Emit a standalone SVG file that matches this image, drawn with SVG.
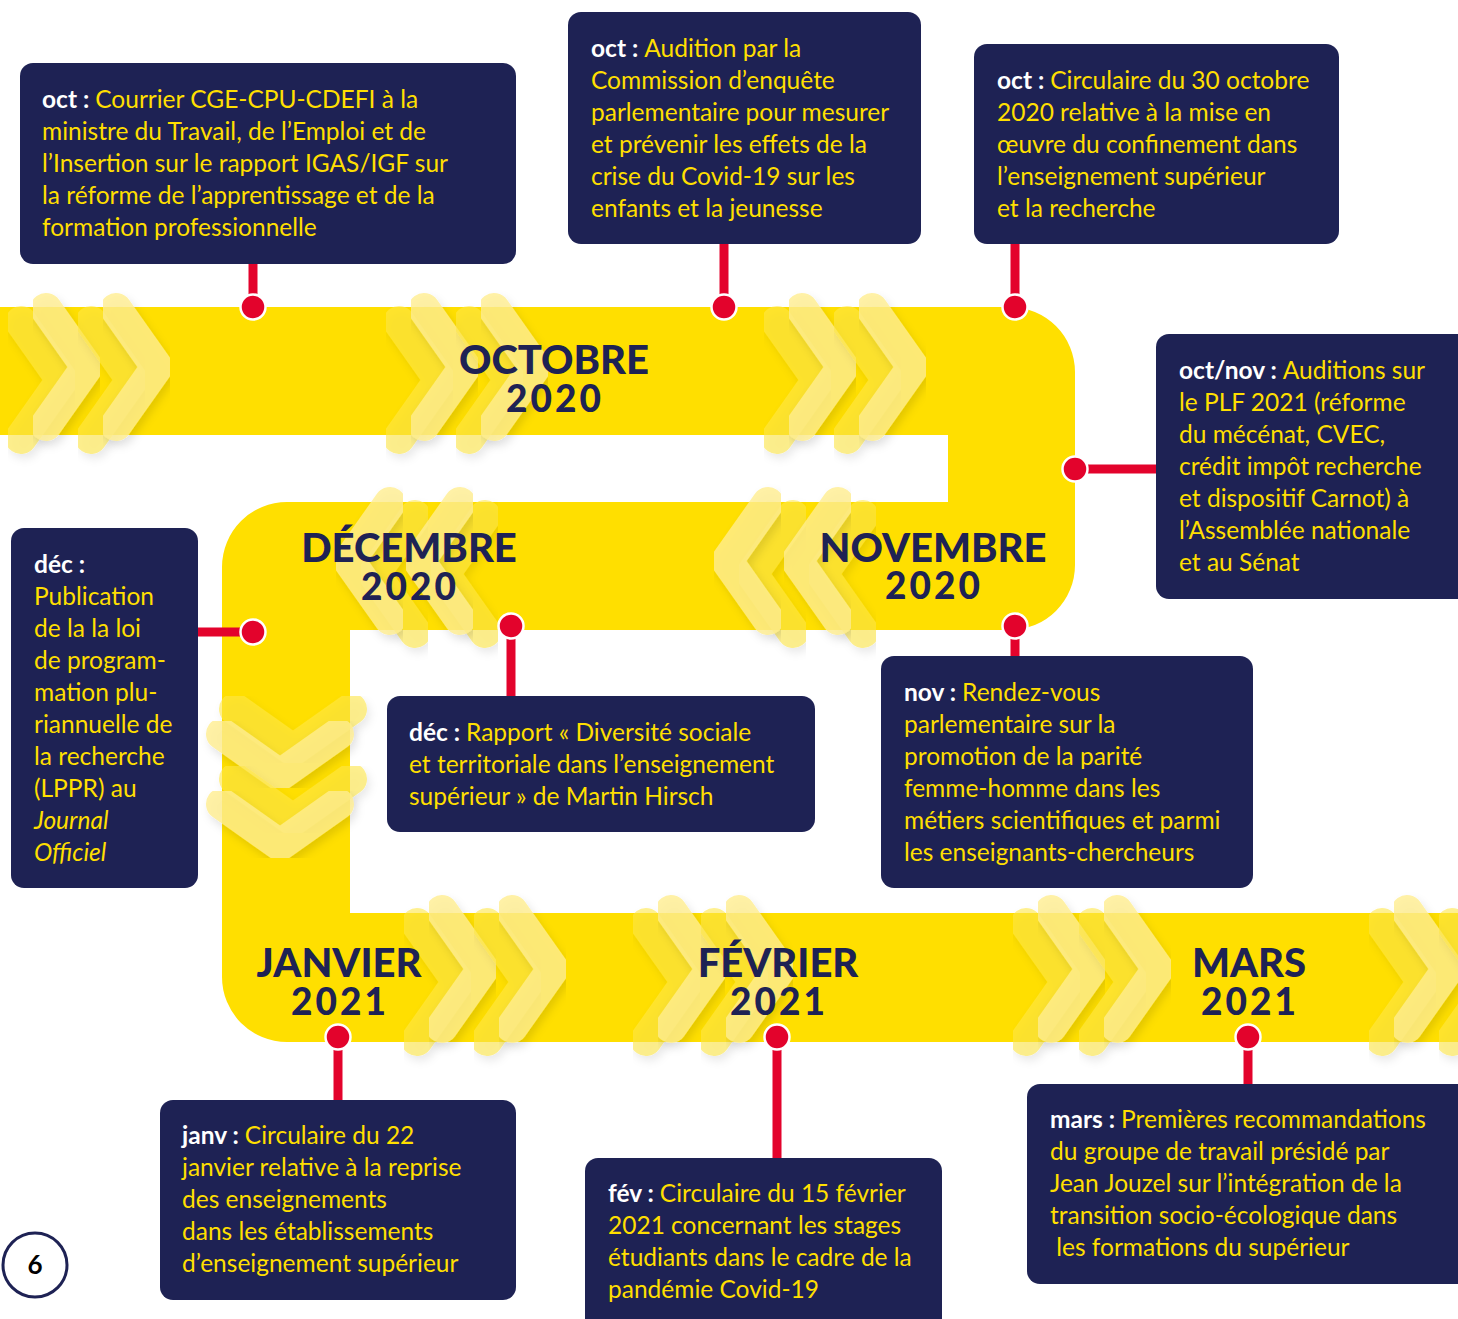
<svg xmlns="http://www.w3.org/2000/svg" xmlns:xlink="http://www.w3.org/1999/xlink" width="1458" height="1319" viewBox="0 0 1458 1319">
<style>
.band{fill:#FFDF00}
.chb{fill:none;stroke:#FFE84A;stroke-opacity:0.6;stroke-width:32;stroke-linecap:round;stroke-linejoin:round}
.chf{fill:none;stroke:#FFEE90;stroke-opacity:0.8;stroke-width:32;stroke-linecap:round;stroke-linejoin:round}
.mt{font-family:Lato,"Noto Sans",sans-serif;font-weight:900;fill:#1E2254;text-anchor:middle}
.month{font-size:40px}
.year{font-size:37px;letter-spacing:3px}
.box{fill:#1E2254}
.t{font-family:Lato,"Noto Sans",sans-serif;font-size:24.5px;fill:#FFDF00}
.b{font-weight:700;fill:#FFFFFF}
.i{font-style:italic}
.conn{stroke:#E3032C;stroke-width:9;fill:none}
.dot{fill:#E3032C;stroke:#FFFFFF;stroke-width:2.5}
</style>
<defs>
<filter id="sh" x="-30%" y="-30%" width="160%" height="160%">
<feDropShadow dx="3" dy="5" stdDeviation="4" flood-color="#000" flood-opacity="0.14"/>
</filter>
<path id="chR" d="M0,-58 L41,0 L0,58"/>
<path id="chL" d="M0,-58 L-41,0 L0,58"/>
<path id="chD" d="M-58,0 L0,41 L58,0"/>
<g id="pairR">
<use xlink:href="#chR" href="#chR" class="chb" x="-25" y="13" filter="url(#sh)"/>
<use xlink:href="#chR" href="#chR" class="chf" filter="url(#sh)"/>
</g>
<g id="pairL">
<use xlink:href="#chL" href="#chL" class="chb" x="25" y="13" filter="url(#sh)"/>
<use xlink:href="#chL" href="#chL" class="chf" filter="url(#sh)"/>
</g>
<g id="pairD">
<use xlink:href="#chD" href="#chD" class="chb" x="13" y="-25" filter="url(#sh)"/>
<use xlink:href="#chD" href="#chD" class="chf" filter="url(#sh)"/>
</g>
</defs>

<g id="timeline-band">
<path class="band" d="M-10,307 H1010 A65,65 0 0 1 1075,372 V565 A65,65 0 0 1 1010,630 H350 V913 H1468 V1042 H287 A65,65 0 0 1 222,977 V567 A65,65 0 0 1 287,502 H948 V435 H-10 Z"/>
</g>

<g id="chevrons">
<use xlink:href="#pairR" href="#pairR" x="46" y="367"/>
<use xlink:href="#pairR" href="#pairR" x="116" y="367"/>
<use xlink:href="#pairR" href="#pairR" x="424" y="367"/>
<use xlink:href="#pairR" href="#pairR" x="494" y="367"/>
<use xlink:href="#pairR" href="#pairR" x="802" y="367"/>
<use xlink:href="#pairR" href="#pairR" x="872" y="367"/>
<use xlink:href="#pairL" href="#pairL" x="768" y="561"/>
<use xlink:href="#pairL" href="#pairL" x="838" y="561"/>
<use xlink:href="#pairL" href="#pairL" x="390" y="561"/>
<use xlink:href="#pairL" href="#pairL" x="460" y="561"/>
<use xlink:href="#pairD" href="#pairD" x="280" y="734"/>
<use xlink:href="#pairD" href="#pairD" x="280" y="804"/>
<use xlink:href="#pairR" href="#pairR" x="442" y="969"/>
<use xlink:href="#pairR" href="#pairR" x="512" y="969"/>
<use xlink:href="#pairR" href="#pairR" x="671" y="969"/>
<use xlink:href="#pairR" href="#pairR" x="739" y="969"/>
<use xlink:href="#pairR" href="#pairR" x="1051" y="969"/>
<use xlink:href="#pairR" href="#pairR" x="1117" y="969"/>
<use xlink:href="#pairR" href="#pairR" x="1407" y="969"/>
<use xlink:href="#pairR" href="#pairR" x="1477" y="969"/>
</g>

<g id="months">
<text id="m-octobre" class="mt"><tspan class="month" x="554" y="374">OCTOBRE</tspan><tspan class="year" x="555" y="412">2020</tspan></text>
<text id="m-decembre" class="mt"><tspan class="month" x="409" y="562">DÉCEMBRE</tspan><tspan class="year" x="410" y="600">2020</tspan></text>
<text id="m-novembre" class="mt"><tspan class="month" x="933" y="562">NOVEMBRE</tspan><tspan class="year" x="934" y="599">2020</tspan></text>
<text id="m-janvier" class="mt"><tspan class="month" x="339" y="977">JANVIER</tspan><tspan class="year" x="340" y="1015">2021</tspan></text>
<text id="m-fevrier" class="mt"><tspan class="month" x="778" y="977">FÉVRIER</tspan><tspan class="year" x="779" y="1015">2021</tspan></text>
<text id="m-mars" class="mt"><tspan class="month" x="1249" y="977">MARS</tspan><tspan class="year" x="1250" y="1015">2021</tspan></text>
</g>

<g id="connectors">
<line class="conn" x1="253" y1="262" x2="253" y2="307"/>
<line class="conn" x1="724" y1="242" x2="724" y2="307"/>
<line class="conn" x1="1015" y1="242" x2="1015" y2="307"/>
<line class="conn" x1="1075" y1="469" x2="1158" y2="469"/>
<line class="conn" x1="1015" y1="626" x2="1015" y2="658"/>
<line class="conn" x1="511" y1="626" x2="511" y2="698"/>
<line class="conn" x1="196" y1="632" x2="253" y2="632"/>
<line class="conn" x1="338" y1="1037" x2="338" y2="1102"/>
<line class="conn" x1="777" y1="1037" x2="777" y2="1160"/>
<line class="conn" x1="1248" y1="1037" x2="1248" y2="1086"/>
<circle class="dot" cx="253" cy="307" r="12.5"/>
<circle class="dot" cx="724" cy="307" r="12.5"/>
<circle class="dot" cx="1015" cy="307" r="12.5"/>
<circle class="dot" cx="1075" cy="469" r="12.5"/>
<circle class="dot" cx="1015" cy="626" r="12.5"/>
<circle class="dot" cx="511" cy="626" r="12.5"/>
<circle class="dot" cx="253" cy="632" r="12.5"/>
<circle class="dot" cx="338" cy="1037" r="12.5"/>
<circle class="dot" cx="777" cy="1037" r="12.5"/>
<circle class="dot" cx="1248" cy="1037" r="12.5"/>
</g>

<g id="box-oct-courrier">
<rect class="box" x="20" y="63" width="496" height="201" rx="13"/>
<text class="t" x="42" y="108"><tspan class="b">oct : </tspan>Courrier CGE-CPU-CDEFI à la</text>
<text class="t" x="42" y="140">ministre du Travail, de l’Emploi et de</text>
<text class="t" x="42" y="172">l’Insertion sur le rapport IGAS/IGF sur</text>
<text class="t" x="42" y="204">la réforme de l’apprentissage et de la</text>
<text class="t" x="42" y="236">formation professionnelle</text>
</g>

<g id="box-oct-audition">
<rect class="box" x="568" y="12" width="353" height="232" rx="13"/>
<text class="t" x="591" y="57"><tspan class="b">oct : </tspan>Audition par la</text>
<text class="t" x="591" y="89">Commission d’enquête</text>
<text class="t" x="591" y="121">parlementaire pour mesurer</text>
<text class="t" x="591" y="153">et prévenir les effets de la</text>
<text class="t" x="591" y="185">crise du Covid-19 sur les</text>
<text class="t" x="591" y="217">enfants et la jeunesse</text>
</g>

<g id="box-oct-circulaire">
<rect class="box" x="974" y="44" width="365" height="200" rx="13"/>
<text class="t" x="997" y="89"><tspan class="b">oct : </tspan>Circulaire du 30 octobre</text>
<text class="t" x="997" y="121">2020 relative à la mise en</text>
<text class="t" x="997" y="153">œuvre du confinement dans</text>
<text class="t" x="997" y="185">l’enseignement supérieur</text>
<text class="t" x="997" y="217">et la recherche</text>
</g>

<g id="box-octnov">
<rect class="box" x="1156" y="334" width="330" height="265" rx="13"/>
<text class="t" x="1179" y="379"><tspan class="b">oct/nov : </tspan>Auditions sur</text>
<text class="t" x="1179" y="411">le PLF 2021 (réforme</text>
<text class="t" x="1179" y="443">du mécénat, CVEC,</text>
<text class="t" x="1179" y="475">crédit impôt recherche</text>
<text class="t" x="1179" y="507">et dispositif Carnot) à</text>
<text class="t" x="1179" y="539">l’Assemblée nationale</text>
<text class="t" x="1179" y="571">et au Sénat</text>
</g>

<g id="box-nov">
<rect class="box" x="881" y="656" width="372" height="232" rx="13"/>
<text class="t" x="904" y="701"><tspan class="b">nov : </tspan>Rendez-vous</text>
<text class="t" x="904" y="733">parlementaire sur la</text>
<text class="t" x="904" y="765">promotion de la parité</text>
<text class="t" x="904" y="797">femme-homme dans les</text>
<text class="t" x="904" y="829">métiers scientifiques et parmi</text>
<text class="t" x="904" y="861">les enseignants-chercheurs</text>
</g>

<g id="box-dec-hirsch">
<rect class="box" x="387" y="696" width="428" height="136" rx="13"/>
<text class="t" x="409" y="741"><tspan class="b">déc : </tspan>Rapport « Diversité sociale</text>
<text class="t" x="409" y="773">et territoriale dans l’enseignement</text>
<text class="t" x="409" y="805">supérieur » de Martin Hirsch</text>
</g>

<g id="box-dec-lppr">
<rect class="box" x="11" y="528" width="187" height="360" rx="13"/>
<text class="t" x="34" y="573"><tspan class="b">déc :</tspan></text>
<text class="t" x="34" y="605">Publication</text>
<text class="t" x="34" y="637">de la la loi</text>
<text class="t" x="34" y="669">de program-</text>
<text class="t" x="34" y="701">mation plu-</text>
<text class="t" x="34" y="733">riannuelle de</text>
<text class="t" x="34" y="765">la recherche</text>
<text class="t" x="34" y="797">(LPPR) au</text>
<text class="t i" x="34" y="829">Journal</text>
<text class="t i" x="34" y="861">Officiel</text>
</g>

<g id="box-janv">
<rect class="box" x="160" y="1100" width="356" height="200" rx="13"/>
<text class="t" x="182" y="1144"><tspan class="b">janv : </tspan>Circulaire du 22</text>
<text class="t" x="182" y="1176">janvier relative à la reprise</text>
<text class="t" x="182" y="1208">des enseignements</text>
<text class="t" x="182" y="1240">dans les établissements</text>
<text class="t" x="182" y="1272">d’enseignement supérieur</text>
</g>

<g id="box-fev">
<rect class="box" x="585" y="1158" width="357" height="180" rx="13"/>
<text class="t" x="608" y="1202"><tspan class="b">fév : </tspan>Circulaire du 15 février</text>
<text class="t" x="608" y="1234">2021 concernant les stages</text>
<text class="t" x="608" y="1266">étudiants dans le cadre de la</text>
<text class="t" x="608" y="1298">pandémie Covid-19</text>
</g>

<g id="box-mars">
<rect class="box" x="1027" y="1084" width="450" height="200" rx="13"/>
<text class="t" x="1050" y="1128"><tspan class="b">mars : </tspan>Premières recommandations</text>
<text class="t" x="1050" y="1160">du groupe de travail présidé par</text>
<text class="t" x="1050" y="1192">Jean Jouzel sur l’intégration de la</text>
<text class="t" x="1050" y="1224">transition socio-écologique dans</text>
<text class="t" x="1050" y="1256" xml:space="preserve"> les formations du supérieur</text>
</g>

<g id="page-number">
<circle cx="35" cy="1265" r="32" fill="#FFFFFF" stroke="#1E2254" stroke-width="3"/>
<text x="35" y="1274" text-anchor="middle" font-family="Lato,'Noto Sans',sans-serif" font-weight="700" font-size="26" fill="#000000">6</text>
</g>
</svg>
